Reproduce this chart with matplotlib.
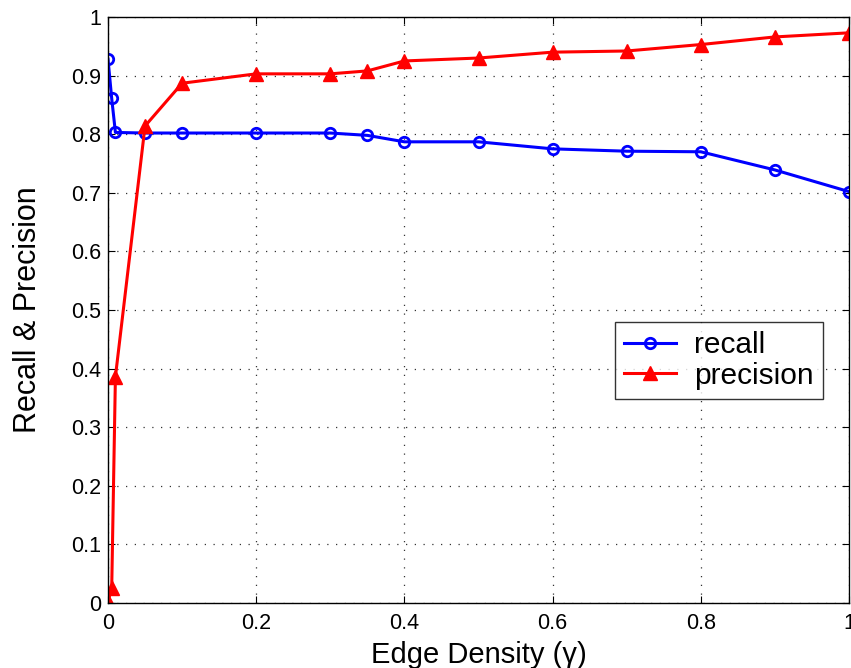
import matplotlib
matplotlib.use("Agg")
import matplotlib.pyplot as plt

plt.rcParams['font.family'] = ['Liberation Sans', 'DejaVu Sans']

edge_density = [0, 0.005, 0.01, 0.05, 0.1, 0.2, 0.3, 0.35, 0.4, 0.5, 0.6, 0.7, 0.8, 0.9, 1.0]
recall = [0.928, 0.861, 0.803, 0.802, 0.802, 0.802, 0.802, 0.798, 0.787, 0.787, 0.775, 0.771, 0.770, 0.739, 0.702]
precision = [0.003, 0.025, 0.386, 0.814, 0.887, 0.903, 0.903, 0.908, 0.925, 0.930, 0.940, 0.942, 0.953, 0.966, 0.973]

xticks = [0, 0.2, 0.4, 0.6, 0.8, 1]
xtick_labels = ['0', '0.2', '0.4', '0.6', '0.8', '1']
yticks = [0, 0.1, 0.2, 0.3, 0.4, 0.5, 0.6, 0.7, 0.8, 0.9, 1]
ytick_labels = ['0', '0.1', '0.2', '0.3', '0.4', '0.5', '0.6', '0.7', '0.8', '0.9', '1']

fig = plt.figure(figsize=(8.51, 6.68), dpi=100)
ax = fig.add_axes([108/851, 65/668, 741/851, 586/668])

ax.plot(edge_density, recall, color='#0000ff', lw=2.2, marker='o', ms=7.5,
        mfc='none', mec='#0000ff', mew=2.0, label='recall')
ax.plot(edge_density, precision, color='#ff0000', lw=2.2, marker='^', ms=10.5,
        mfc='#ff0000', mec='#ff0000', label='precision')

ax.set_xlim(0, 1)
ax.set_ylim(0, 1)
ax.set_xticks(xticks)
ax.set_xticklabels(xtick_labels)
ax.set_yticks(yticks)
ax.set_yticklabels(ytick_labels)
ax.tick_params(direction='in', top=True, right=True, labelsize=15.5, length=5, width=0.8)
ax.tick_params(axis='x', pad=7)
ax.tick_params(axis='y', pad=5)
ax.grid(True, color='#333333', linestyle=(0, (1, 6)), linewidth=0.9)
for s in ax.spines.values():
    s.set_linewidth(1.0)

ax.set_xlabel('Edge Density (γ)', fontsize=21, labelpad=5)
ax.set_ylabel('Recall & Precision', fontsize=22, labelpad=20)

leg = ax.legend(loc='upper left', bbox_to_anchor=((615-108)/741, (603-322)/586),
                fontsize=21.5, frameon=True, fancybox=False, edgecolor='black',
                handlelength=1.75, borderpad=0.3, labelspacing=0.1, handletextpad=0.6,
                borderaxespad=0)
leg.get_frame().set_linewidth(1.0)

fig.savefig('out.png', dpi=100)
